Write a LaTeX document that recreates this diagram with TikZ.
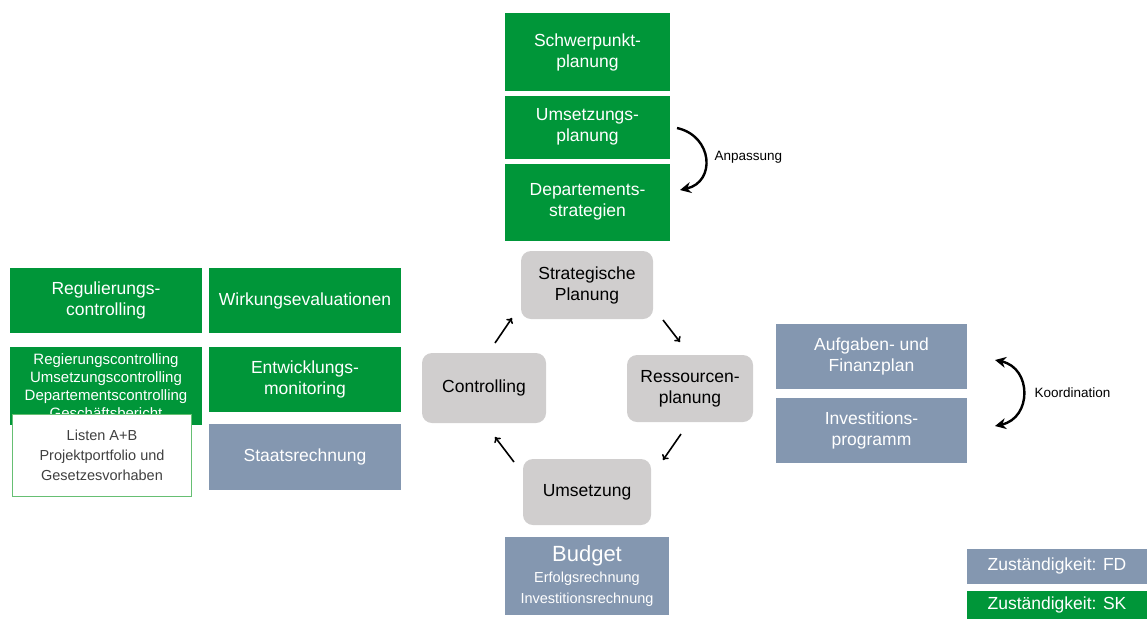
\documentclass[tikz,border=0pt]{standalone}
\usepackage{fontspec}
\setmainfont{Liberation Sans}
\usetikzlibrary{arrows.meta,positioning}

\begin{document}
\begin{tikzpicture}[x=1pt,y=-1pt,
  skbox/.style={fill=cgreen,text=white,align=center,inner sep=0pt,font=\fontsize{17.5}{21}\selectfont},
  fdbox/.style={fill=cblue,text=white,align=center,inner sep=0pt,font=\fontsize{17.5}{21}\selectfont},
  cycbox/.style={fill=cgray,rounded corners=10pt,align=center,inner sep=0pt,font=\fontsize{17.5}{21}\selectfont},
  cycarrow/.style={line width=1.6pt,-{To[length=5pt,width=8pt]}},
  bigarrow/.style={line width=2.4pt,-{Stealth[length=11pt,width=11pt]}},
  note/.style={anchor=west,font=\fontsize{13.5}{16}\selectfont}]
%
\useasboundingbox (0,0) rectangle (1147,619);
%
\definecolor{cgreen}{rgb}{0.0,0.588,0.224}
\definecolor{cblue}{rgb}{0.518,0.592,0.690}
\definecolor{cgray}{rgb}{0.816,0.808,0.808}
\definecolor{cframe}{rgb}{0.40,0.75,0.45}
\definecolor{ctext}{rgb}{0.25,0.25,0.25}
%
\node[skbox,minimum width=165pt,minimum height=78pt] (schwer) at (587.5,52) {Schwerpunkt-\\planung};
\node[skbox,minimum width=165pt,minimum height=63pt] (umsplan) at (587.5,127) {Umsetzungs-\\planung};
\node[skbox,minimum width=165pt,minimum height=77pt] (depstrat) at (587.5,202) {Departements-\\strategien};
%
\node[cycbox,minimum width=132pt,minimum height=68pt] (strat) at (587,285) {Strategische\\Planung};
\node[cycbox,minimum width=126pt,minimum height=67pt] (ress) at (690,388.5) {Ressourcen-\\planung};
\node[cycbox,minimum width=124pt,minimum height=70pt] (contr) at (484,388) {Controlling};
\node[cycbox,minimum width=128pt,minimum height=66pt] (umsetz) at (587,492) {Umsetzung};
%
\node[fdbox,minimum width=164pt,minimum height=78pt] (budget) at (587,576) {{\fontsize{22}{24}\selectfont Budget}\\[0pt]{\fontsize{14.5}{18}\selectfont Erfolgsrechnung}\\{\fontsize{14.5}{18}\selectfont Investitionsrechnung}};
%
\node[skbox,minimum width=192pt,minimum height=65pt] (regul) at (106,300.5) {Regulierungs-\\controlling};
\node[skbox,minimum width=192pt,minimum height=65pt] (wirk) at (305,300.5) {Wirkungsevaluationen};
\node[skbox,minimum width=192pt,minimum height=78pt,font=\fontsize{15}{18}\selectfont] (regier) at (106,386) {Regierungscontrolling\\Umsetzungscontrolling\\Departementscontrolling\\Geschäftsbericht};
\node[skbox,minimum width=192pt,minimum height=65pt] (entw) at (305,379) {Entwicklungs-\\monitoring};
\node[fdbox,minimum width=192pt,minimum height=66pt] (staats) at (305,457) {Staatsrechnung};
\node[draw=cframe,line width=1.5pt,fill=white,text=ctext,align=center,inner sep=0pt,minimum width=179pt,minimum height=82pt,font=\fontsize{14.5}{20}\selectfont] (listen) at (102,455.5) {Listen A+B\\Projektportfolio und\\Gesetzesvorhaben};
%
\node[fdbox,minimum width=191pt,minimum height=65pt] (aufg) at (871.5,356) {Aufgaben- und\\Finanzplan};
\node[fdbox,minimum width=191pt,minimum height=65pt] (invest) at (871.5,430) {Investitions-\\programm};
%
\node[fdbox,minimum width=180pt,minimum height=35pt] (legfd) at (1057,566) {Zuständigkeit: FD};
\node[skbox,minimum width=180pt,minimum height=28pt] (legsk) at (1057,605) {Zuständigkeit: SK};
%
\coordinate (anp1) at (677,128);
\coordinate (anp2) at (680,190);
\draw[bigarrow] (anp1) .. controls +(36,8) and +(36,-8) .. (anp2);
\node[note] (anpassung) at (711,157) {Anpassung};
%
\coordinate (koo1) at (995,360);
\coordinate (koo2) at (995,426);
\draw[bigarrow,{Stealth[length=11pt,width=11pt]}-{Stealth[length=11pt,width=11pt]}] (koo1) .. controls +(37,8) and +(37,-8) .. (koo2);
\node[note] (koordination) at (1031,393) {Koordination};
%
\coordinate (sr1) at (663,320);
\coordinate (sr2) at (680,342);
\coordinate (ru1) at (681,434);
\coordinate (ru2) at (663,460);
\coordinate (uc1) at (514,462);
\coordinate (uc2) at (495,437);
\coordinate (cs1) at (495,343);
\coordinate (cs2) at (512,318);
\draw[cycarrow] (sr1) -- (sr2);
\draw[cycarrow] (ru1) -- (ru2);
\draw[cycarrow] (uc1) -- (uc2);
\draw[cycarrow] (cs1) -- (cs2);
%
\end{tikzpicture}
\end{document}
